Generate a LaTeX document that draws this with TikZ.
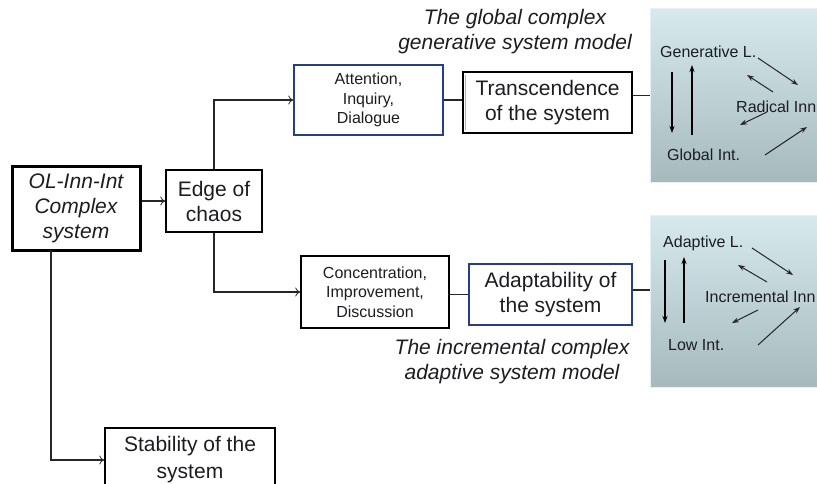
\documentclass[tikz,border=0pt]{standalone}
\usepackage{fontspec}
\setmainfont{Liberation Sans}
\usetikzlibrary{arrows.meta}
\definecolor{txt}{RGB}{28,28,34}
\definecolor{bbl}{RGB}{40,62,130}
\definecolor{ptop}{RGB}{214,234,238}
\definecolor{pbot}{RGB}{166,186,189}
\definecolor{pedge}{RGB}{232,240,240}
\tikzset{
  big/.style={font=\fontsize{21}{25}\selectfont, text=txt, align=center},
  small/.style={font=\fontsize{16}{19.5}\selectfont, text=txt, align=center},
  bbox/.style={draw=black, line width=1.5pt, inner sep=0pt},
  bluebox/.style={draw=bbl, line width=1.5pt, inner sep=0pt},
  captext/.style={font=\fontsize{21}{25}\selectfont\itshape, text=txt, align=center},
  ptext/.style={font=\fontsize{16}{19}\selectfont, text=txt, anchor=west, inner sep=0pt},
  panel/.style={draw=pedge, line width=1pt, top color=ptop, bottom color=pbot},
  conn/.style={line width=1.3pt, draw=black!85},
  arr/.style={conn, -{To[length=5pt,width=9pt,line width=0.8pt]}},
  parr/.style={line width=1.3pt, -{Stealth[length=7pt,width=5pt]}},
  darr/.style={line width=1pt, draw=black!85, -{Stealth[length=7pt,width=5pt]}}
}
\begin{document}
\begin{tikzpicture}[x=1pt,y=-1pt]
\useasboundingbox (0,0) rectangle (817,484);
\clip (0,0) rectangle (817,484);

% panels
\node[panel, minimum width=180pt, minimum height=174pt, inner sep=0pt, anchor=north west] (P1) at (650,8) {};
\node[panel, minimum width=180pt, minimum height=172pt, inner sep=0pt, anchor=north west] (P2) at (650,215) {};

% boxes
\node[bbox, line width=3pt, minimum width=128pt, minimum height=83pt, big, font=\fontsize{21}{25}\selectfont\itshape] (OL) at (76,208.5) {OL-Inn-Int\\Complex\\system};
\node[bbox, minimum width=96pt, minimum height=62pt, big] (Edge) at (214,201) {Edge of\\chaos};
\node[bluebox, minimum width=149pt, minimum height=70pt, small] (Att) at (368.5,100) {Attention,\\Inquiry,\\Dialogue};
\draw[black!30, line width=1pt] (465.5,75) -- (465.5,130.5);
\node[bbox, minimum width=169pt, minimum height=61pt, big] (Tra) at (547.5,102.5) {Transcendence\\of the system};
\node[bbox, minimum width=148pt, minimum height=72pt, small] (Con) at (375,292) {Concentration,\\Improvement,\\Discussion};
\node[bluebox, minimum width=163pt, minimum height=61pt, big] (Ada) at (550.5,294.5) {Adaptability of\\the system};
\node[bbox, minimum width=170pt, minimum height=64pt, big, font=\fontsize{21}{27}\selectfont] (Sta) at (190,460) {Stability of the\\system};

% captions
\node[captext] (C1) at (515,32) {The global complex\\generative system model};
\node[captext] (C2) at (512,362) {The incremental complex\\adaptive system model};

% connectors
\coordinate (olb) at (51,250);
\draw[arr] (OL.east |- Edge.west) -- (Edge.west);
\draw[arr] (Edge.north) |- (Att.west);
\draw[arr] (Edge.south) |- (Con.west);
\draw[conn] (Att.east) -- (Att.east -| Tra.west);
\draw[conn] (Tra.east |- P1.west) -- (P1.west);
\draw[conn] (Con.east |- Ada.west) -- (Ada.west);
\coordinate (p2l) at (650,290);
\draw[conn] (Ada.east |- p2l) -- (p2l);
\draw[arr] (olb) |- (Sta.west);

% panel 1 content
\node[ptext] (GL) at (660,52) {Generative L.};
\node[ptext] (RI) at (736,107) {Radical Inn};
\node[ptext] (GI) at (667,155) {Global Int.};
\draw[parr] (672,72) -- (672,133);
\draw[parr] (692,135) -- (692,65);
\draw[darr] (758,58) -- (798,85);
\draw[darr] (773,92) -- (747,75);
\draw[darr] (767,112) -- (740,125);
\draw[darr] (765,155) -- (807,127);

% panel 2 content
\node[ptext] (AL) at (663,243) {Adaptive L.};
\node[ptext] (II) at (705,297) {Incremental Inn};
\node[ptext] (LI) at (668,345) {Low Int.};
\draw[parr] (665,260) -- (665,323);
\draw[parr] (684,323) -- (684,257);
\draw[darr] (752,248) -- (793,275);
\draw[darr] (767,282) -- (738,265);
\draw[darr] (758,310) -- (732,323);
\draw[darr] (758,345) -- (800,307);
\end{tikzpicture}
\end{document}
